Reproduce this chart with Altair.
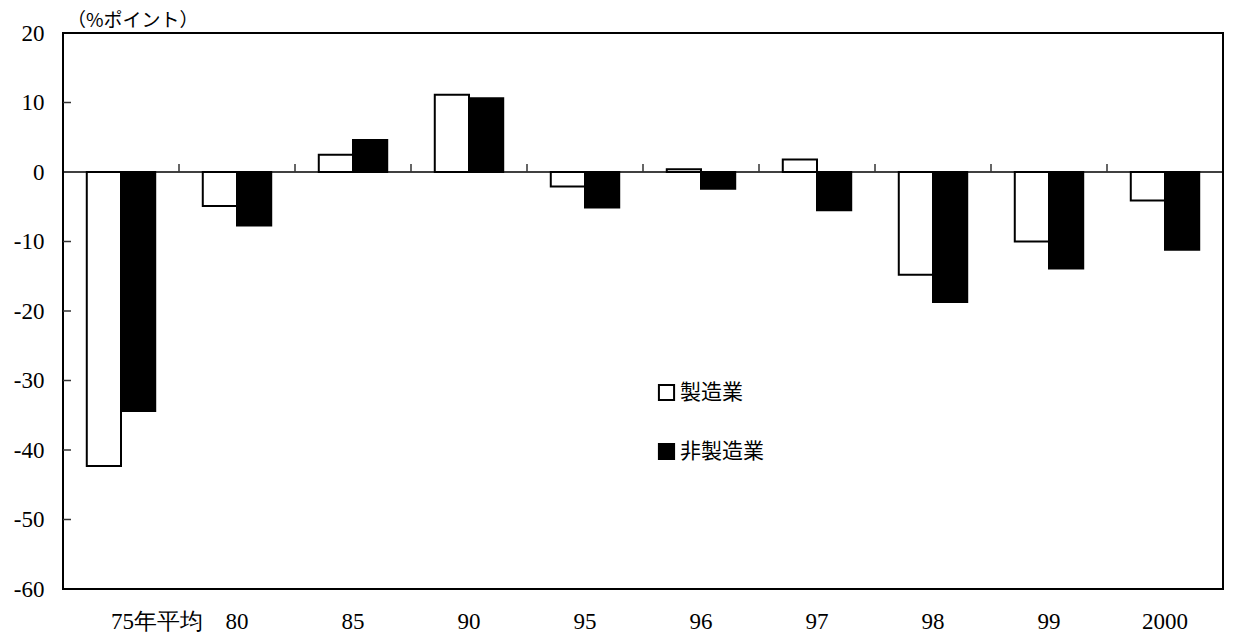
import altair as alt
import pandas as pd

categories = ["75年平均", "80", "85", "90", "95", "96", "97", "98", "99", "2000"]
series_names = ["製造業", "非製造業"]
manufacturing = [-42.3, -4.9, 2.5, 11.1, -2.1, 0.4, 1.8, -14.8, -10.0, -4.1]
non_manufacturing = [-34.4, -7.7, 4.6, 10.6, -5.1, -2.4, -5.5, -18.7, -13.9, -11.2]
y_ticks = [-60, -50, -40, -30, -20, -10, 0, 10, 20]
title_text = "（%ポイント）"

rows = []
for c, m, n in zip(categories, manufacturing, non_manufacturing):
    rows.append({"cat": c, "series": series_names[0], "value": m})
    rows.append({"cat": c, "series": series_names[1], "value": n})
df = pd.DataFrame(rows)

W, H = 1160, 556
serif = "Liberation Serif, Times New Roman, Times, serif"
sans = "Noto Sans CJK JP, Noto Sans, sans-serif"

yscale = alt.Scale(domain=[-60, 20], nice=False, zero=False)

bars = alt.Chart(df).mark_bar(stroke="black", strokeWidth=2).encode(
    x=alt.X("cat:N", sort=categories,
            scale=alt.Scale(paddingInner=0.41, paddingOuter=0.205),
            axis=alt.Axis(title=None, labelAngle=0, tickSize=0, domain=False,
                          labelFont=serif, labelFontSize=23, labelColor="black",
                          labelPadding=21,
                          labelOffset={"condition": {"test": "datum.value === '75年平均'", "value": 36}, "value": 0})),
    xOffset=alt.XOffset("series:N", sort=series_names, scale=alt.Scale(paddingInner=0, paddingOuter=0)),
    y=alt.Y("value:Q", scale=yscale,
            axis=alt.Axis(title=None, values=y_ticks, tickSize=0, domain=False, grid=False,
                          labelFont=serif, labelFontSize=23, labelColor="black",
                          labelPadding=19, labelExpr="'' + datum.value")),
    color=alt.Color("series:N", sort=series_names,
                    scale=alt.Scale(domain=series_names, range=["white", "black"]),
                    legend=alt.Legend(title=None, orient="none", legendX=593, legendY=349,
                                      symbolType="square", symbolSize=230,
                                      symbolStrokeColor="black", symbolStrokeWidth=2,
                                      labelFont=sans, labelFontSize=21, labelColor="black",
                                      rowPadding=34, labelOffset=3)),
)

zero_line = alt.Chart(pd.DataFrame({"z": [0]})).mark_rule(color="black", strokeWidth=1.5).encode(
    y=alt.Y("z:Q", scale=yscale)
)

ytick_df = pd.DataFrame({"v": [t for t in y_ticks if -60 < t < 20 and t != 0]})
yticks = alt.Chart(ytick_df).mark_rule(color="#333333", strokeWidth=1.5).encode(
    y=alt.Y("v:Q", scale=yscale),
    x=alt.value(0),
    x2=alt.value(8),
)

bound_df = pd.DataFrame({"b": list(range(1, len(categories))), "y0": 0, "y1": 1.15})
bticks = alt.Chart(bound_df).mark_rule(color="#333333", strokeWidth=1.5).encode(
    x=alt.X("b:Q", scale=alt.Scale(domain=[0, len(categories)], nice=False, zero=False), axis=None),
    y=alt.Y("y0:Q", scale=yscale),
    y2="y1:Q",
)

title_mark = alt.Chart(pd.DataFrame({"t": [title_text]})).mark_text(
    align="left", baseline="top", font=sans, fontSize=19, color="black"
).encode(text="t:N", x=alt.value(4), y=alt.value(-21))

chart = alt.layer(bars, zero_line, yticks, bticks, title_mark).resolve_scale(x="independent").properties(
    width=W, height=H,
    autosize=alt.AutoSizeParams(type="none"),
    padding={"left": 55, "top": 25, "right": 2, "bottom": 46},
    background="white",
).configure_view(stroke="black", strokeWidth=2)

chart.save("out.html", embed_options={"renderer": "svg", "actions": False})
